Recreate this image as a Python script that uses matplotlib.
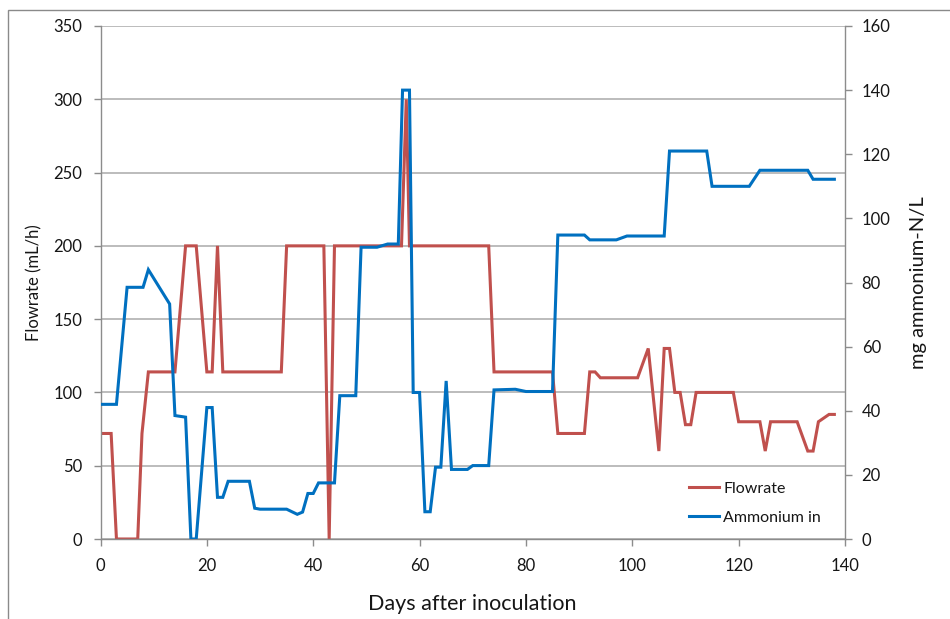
import matplotlib
matplotlib.use("Agg")
import matplotlib.pyplot as plt
from matplotlib.patches import Rectangle

plt.rcParams['font.family'] = ['Lato', 'DejaVu Sans']

# Flowrate (mL/h) by day after inoculation
flow_days = [0, 2, 3, 7, 7.8, 9, 14, 16, 18, 20, 21, 22, 23, 34, 35, 42, 43, 44,
             56.6, 57.5, 58.1, 73, 74, 85, 86, 91, 92, 93, 94, 101, 103, 105, 106,
             107, 108, 109, 110, 111, 112, 119, 120, 124, 125, 126, 131, 133, 134,
             135, 137, 138]
flow_vals = [72, 72, 0, 0, 72, 114, 114, 200, 200, 114, 114, 200, 114, 114, 200, 200, 0, 200,
             200, 300, 200, 200, 114, 114, 72, 72, 114, 114, 110, 110, 130, 60, 130,
             130, 100, 100, 78, 78, 100, 100, 80, 80, 60, 80, 80, 60, 60,
             80, 85, 85]

# Ammonium in (mg ammonium-N/L) by day after inoculation
nh4_days = [0, 3, 5, 8, 9, 13, 14, 16, 17, 18, 20, 21, 22, 23, 24, 28, 29, 30, 35, 37,
            38, 39, 40, 41, 44, 45, 48, 49, 52, 54, 56, 56.8, 58.1, 58.8, 60, 61, 62,
            63, 64, 65, 66, 69, 70, 73, 74, 78, 80, 85, 86, 91, 92, 97, 99, 106,
            107, 114, 115, 122, 124, 133, 134, 138]
nh4_vals = [42, 42, 78.5, 78.5, 84, 73.3, 38.5, 38, 0, 0, 41, 41, 13, 13, 18, 18, 9.6, 9.3, 9.3, 7.7,
            8.4, 14.2, 14.2, 17.5, 17.5, 44.7, 44.7, 91, 91, 92, 92, 140, 140, 45.7, 45.7, 8.5, 8.5,
            22.4, 22.4, 49.3, 21.7, 21.7, 22.9, 22.9, 46.5, 46.7, 46, 46, 94.8, 94.8, 93.3, 93.3, 94.5, 94.5,
            121, 121, 110, 110, 115, 115, 112.2, 112.2]

left_ticks = [0, 50, 100, 150, 200, 250, 300, 350]
right_ticks = [0, 20, 40, 60, 80, 100, 120, 140, 160]
x_ticks = [0, 20, 40, 60, 80, 100, 120, 140]

RED = '#C0504D'
BLUE = '#0070C0'
GRID = '#B0B0B0'
AXIS = '#8C8C8C'
TEXT = '#161616'

W, H = 950, 619
fig = plt.figure(figsize=(W / 100, H / 100), dpi=100)

# outer frame of the chart area
fig.patches.append(Rectangle((8 / W, -0.01), 1.0, 1 - 10 / H + 0.01,
                             transform=fig.transFigure, fill=False,
                             edgecolor='#8A8A8A', linewidth=1.0))

left, right, top, bottom = 100.5, 845, 26, 539
ax = fig.add_axes([left / W, (H - bottom) / H, (right - left) / W, (bottom - top) / H])
ax2 = ax.twinx()

l1, = ax.plot(flow_days, flow_vals, color=RED, lw=2.2, solid_joinstyle='miter', label='Flowrate')
l2, = ax2.plot(nh4_days, nh4_vals, color=BLUE, lw=2.2, solid_joinstyle='miter', label='Ammonium in')

ax.set_xlim(0, 140)
ax.set_ylim(0, 350)
ax2.set_ylim(0, 160)
ax.set_xticks(x_ticks)
ax.set_yticks(left_ticks)
ax2.set_yticks(right_ticks)

ax.yaxis.grid(True, color=GRID, lw=1.2)
ax.set_axisbelow(True)

for a in (ax, ax2):
    for s in a.spines.values():
        s.set_visible(False)
ax.spines['left'].set_visible(True)
ax.spines['bottom'].set_visible(True)
ax2.spines['right'].set_visible(True)
for s in (ax.spines['left'], ax.spines['bottom'], ax2.spines['right']):
    s.set_color(AXIS)
    s.set_linewidth(1.0)

ax.tick_params(axis='both', direction='out', length=5, width=1, color=AXIS,
               labelsize=12, labelcolor=TEXT)
ax.tick_params(axis='y', pad=8)
ax.tick_params(axis='x', pad=9)
ax2.tick_params(axis='y', direction='out', length=5, width=1, color=AXIS,
                labelsize=12, labelcolor=TEXT, pad=7)

ax.set_xlabel('Days after inoculation', fontsize=15.5, color=TEXT, labelpad=14)
ax.set_ylabel('Flowrate (mL/h)', fontsize=12, color=TEXT, labelpad=8)
ax2.set_ylabel('mg ammonium-N/L', fontsize=14.5, color=TEXT, labelpad=14)

ax2.legend([l1, l2], ['Flowrate', 'Ammonium in'], loc='lower left',
           bbox_to_anchor=((681 - left) / (right - left), (bottom - 533) / (bottom - top)),
           frameon=False, fontsize=11.5, handlelength=1.9, handletextpad=0.25,
           labelspacing=0.95, borderpad=0, labelcolor=TEXT)

fig.savefig('out.png', dpi=100, facecolor='white')
